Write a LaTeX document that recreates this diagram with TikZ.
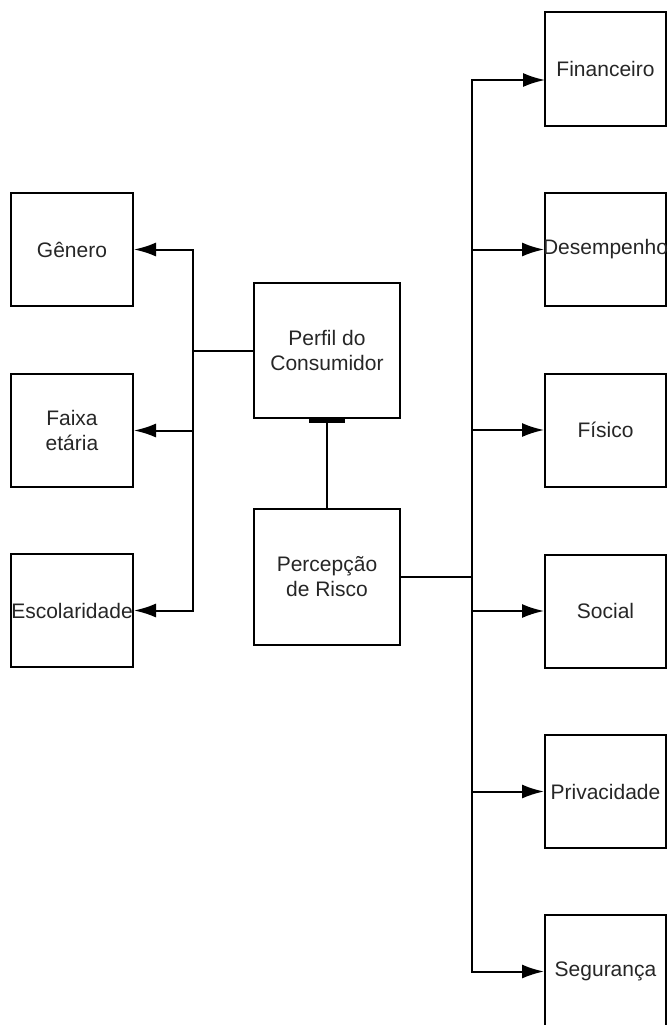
\documentclass[tikz,border=0pt]{standalone}
\usepackage{fontspec}
\setmainfont{Liberation Sans}
\usetikzlibrary{arrows.meta,calc}
\newcommand{\ovr}[1]{\makebox[0pt][c]{#1}}
\tikzset{
  box/.style={draw, line width=2pt, minimum width=122pt, minimum height=113pt, inner sep=0pt,
    align=center, font=\fontsize{21}{25}\selectfont, text=black!85},
  cbox/.style={box, minimum width=146pt, minimum height=135pt},
  line/.style={draw, line width=2pt},
  arr/.style={line, -{Latex[length=22pt,width=14pt]}},
}
\begin{document}
\begin{tikzpicture}[x=1pt,y=-1pt]
\useasboundingbox (0,0) rectangle (667,1025);
% left column
\node[box] (gen) at (72,249.5) {\ovr{Gênero}};
\node[box] (fai) at (72,430.5) {Faixa\\etária};
\node[box] (esc) at (72,610.5) {\ovr{Escolaridade}};
% center
\node[cbox] (per) at (327,350.5) {Perfil do\\Consumidor};
\node[cbox, minimum height=136pt] (risk) at (327,577) {Percepção\\de Risco};
% right column
\node[box, minimum width=121pt] (fin) at (605.5,69) {\ovr{Financeiro}};
\node[box, minimum width=121pt] (des) at (605.5,249.5) {\ovr{Desempenho}};
\node[box, minimum width=121pt] (fis) at (605.5,430) {\ovr{Físico}};
\node[box, minimum width=121pt] (soc) at (605.5,611) {\ovr{Social}};
\node[box, minimum width=121pt] (pri) at (605.5,791.5) {\ovr{Privacidade}};
\node[box, minimum width=121pt] (seg) at (605.5,971.5) {\ovr{Segurança}};
% trunks
\coordinate (lt) at (193,350.5);
\coordinate (rt) at (472,577);
\coordinate (finin) at (545,80);
\draw[line] (per.west) -- (lt);
\draw[arr] (lt) |- (gen.east);
\draw[arr] (lt) |- (fai.east);
\draw[arr] (lt) |- (esc.east);
\draw[line] (risk.east) -- (rt);
\draw[arr] (rt) |- (finin);
\draw[arr] (rt) |- (des.west);
\draw[arr] (rt) |- (fis.west);
\draw[arr] (rt) |- (soc.west);
\draw[arr] (rt) |- (pri.west);
\draw[arr] (rt) |- (seg.west);
% link between center boxes
\draw[line] (per.south) -- (risk.north);
\draw[line width=3.5pt] ($(per.south)+(-18,2)$) -- ($(per.south)+(18,2)$);
\end{tikzpicture}
\end{document}
